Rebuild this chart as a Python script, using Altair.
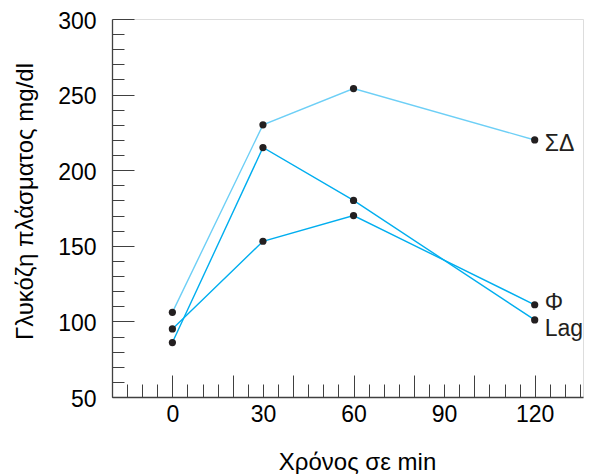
import altair as alt
import pandas as pd

# ---- data ----
times = [0, 30, 60, 120]
series_names = ["ΣΔ", "Φ", "Lag"]
sd_values = [106, 230, 254, 220]
phi_values = [95, 153, 170, 111]
lag_values = [86, 215, 180, 101]
line_colors = ["#6dcff6", "#00aeef", "#00aeef"]

x_label_values = [0, 30, 60, 90, 120]
x_major_ticks = [-20, 0, 20, 40, 60, 80, 100, 120]
x_minor_ticks = list(range(-15, 136, 5))
y_label_values = [50, 100, 150, 200, 250, 300]
y_minor_ticks = list(range(60, 300, 10))

rows = []
for name, vals in zip(series_names, [sd_values, phi_values, lag_values]):
    for t, v in zip(times, vals):
        rows.append({"series": name, "time": t, "value": v})
df = pd.DataFrame(rows)

# ---- styling ----
FONT = "Liberation Sans"
INK = "#231f20"
TICK = "#404040"
W, H = 471, 378
label_dy = {"ΣΔ": 4, "Φ": -2, "Lag": 9}

xs = alt.Scale(domain=[-20, 136], nice=False, zero=False)
ys = alt.Scale(domain=[50, 300], nice=False, zero=False)

x_lab_axis = alt.Axis(orient="bottom", values=x_label_values, ticks=False, domain=True,
                      domainColor=TICK, domainWidth=1.3, labelPadding=6, labelFontSize=23,
                      labelFlush=False, labelOverlap=False, labelAngle=0, format="d",
                      title="Χρόνος σε min", titleFontSize=24, titleFontWeight="normal",
                      titleX=245, titleY=72, titleBaseline="alphabetic", titleAlign="center",
                      grid=False)
y_lab_axis = alt.Axis(orient="left", values=y_label_values, ticks=False, domain=True,
                      domainColor=TICK, domainWidth=1.3, labelPadding=16, labelFontSize=23,
                      labelOffset=2, labelFlush=False, labelOverlap=False, format="d",
                      title="Γλυκόζη πλάσματος mg/dl", titleFontSize=24, titleFontWeight="normal",
                      titleAngle=270, titleX=-80, titleY=182, titleBaseline="alphabetic",
                      titleAlign="center", grid=False)

x_major_axis = alt.Axis(orient="bottom", values=x_major_ticks, offset=-22, tickSize=22,
                        tickColor=TICK, tickWidth=1, labels=False, domain=False, title=None, grid=False)
y_major_axis = alt.Axis(orient="left", values=y_label_values, offset=-22, tickSize=22,
                        tickColor=TICK, tickWidth=1, labels=False, domain=False, title=None, grid=False)
x_minor_axis = alt.Axis(orient="bottom", values=x_minor_ticks, offset=-13, tickSize=13,
                        tickColor=TICK, tickWidth=1, labels=False, domain=False, title=None, grid=False)
y_minor_axis = alt.Axis(orient="left", values=y_minor_ticks, offset=-12, tickSize=12,
                        tickColor=TICK, tickWidth=1, labels=False, domain=False, title=None, grid=False)

base = alt.Chart(df)

lines = base.mark_line(strokeWidth=1.4).encode(
    x=alt.X("time:Q", scale=xs, axis=x_lab_axis),
    y=alt.Y("value:Q", scale=ys, axis=y_lab_axis),
    color=alt.Color("series:N", scale=alt.Scale(domain=series_names, range=line_colors), legend=None),
)

points = base.mark_point(filled=True, size=52, color=INK, opacity=1).encode(
    x=alt.X("time:Q", scale=xs, axis=x_major_axis),
    y=alt.Y("value:Q", scale=ys, axis=y_major_axis),
)

texts = []
for i, name in enumerate(series_names):
    xa = x_minor_axis if i == 0 else None
    ya = y_minor_axis if i == 0 else None
    enc_x = alt.X("time:Q", scale=xs, axis=xa)
    enc_y = alt.Y("value:Q", scale=ys, axis=ya)
    t = (
        base.transform_filter((alt.datum.series == name) & (alt.datum.time == 120))
        .mark_text(align="left", baseline="middle", dx=10, dy=label_dy[name],
                   fontSize=23, font=FONT, color=INK)
        .encode(x=enc_x, y=enc_y, text="series:N")
    )
    texts.append(t)

chart = (
    alt.layer(lines, points, *texts)
    .resolve_axis(x="independent", y="independent")
    .properties(width=W, height=H, autosize=alt.AutoSizeParams(type="none"),
                padding={"left": 104, "top": 11, "right": 4, "bottom": 84})
    .configure_view(stroke="transparent")
    .configure_axis(labelFont=FONT, titleFont=FONT, labelColor=INK, titleColor=INK)
    .configure(background="white")
)

chart.save("out.html", embed_options={"renderer": "svg", "actions": False})
